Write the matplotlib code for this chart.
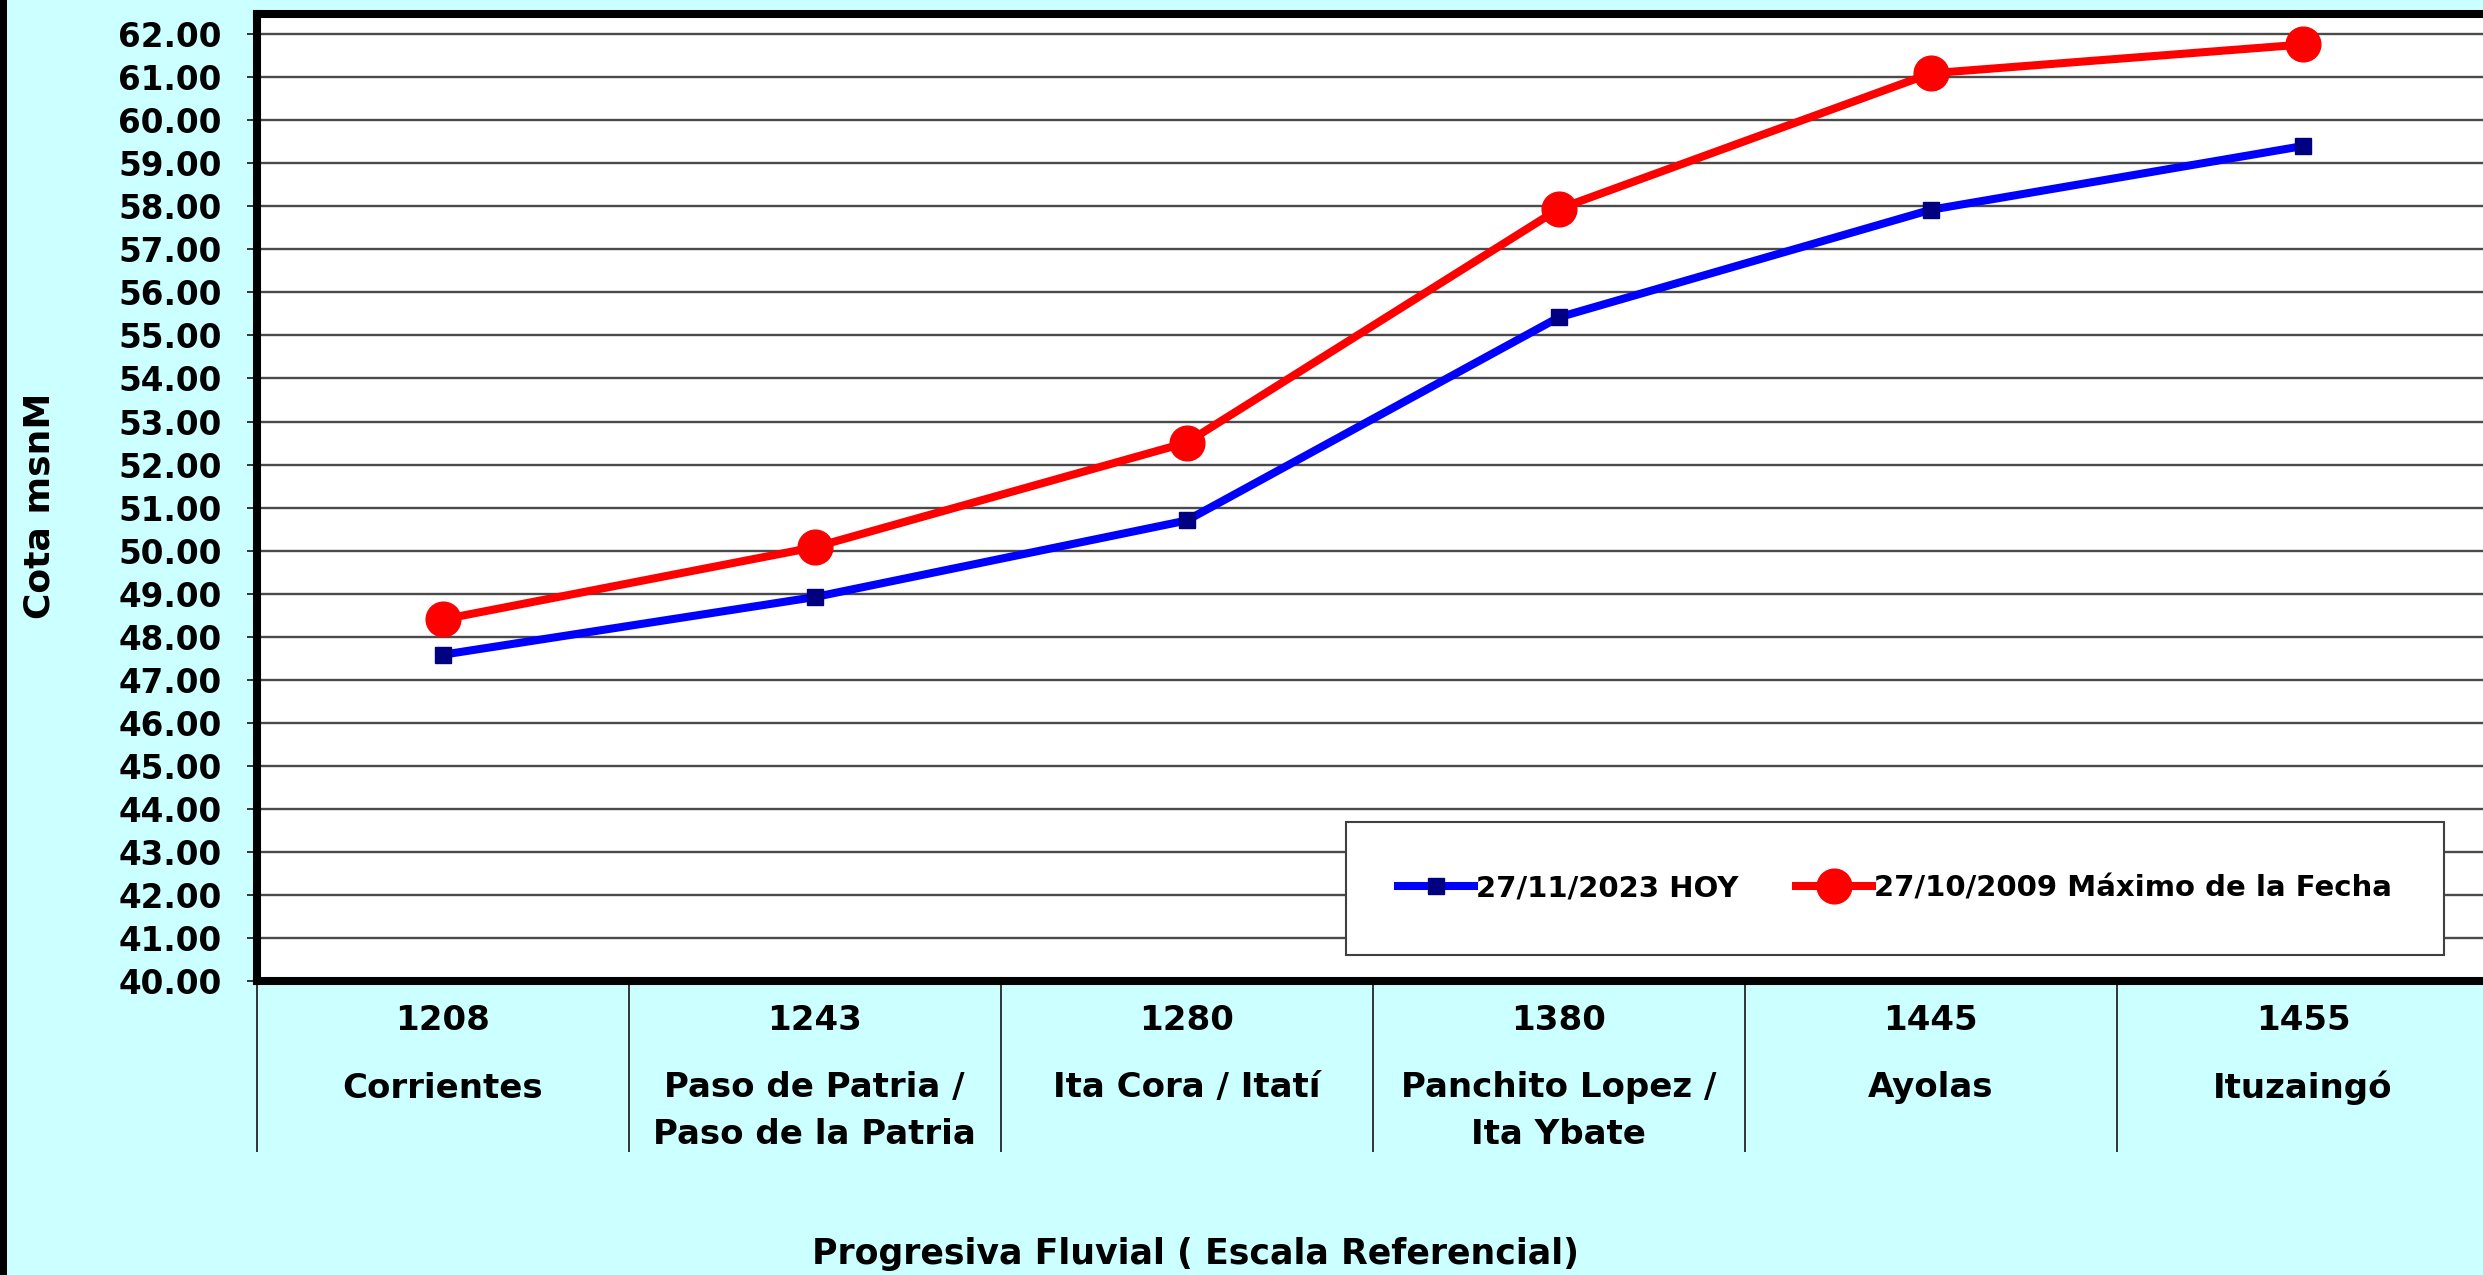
import numpy as np
import matplotlib
matplotlib.use("Agg")
import matplotlib.pyplot as plt
from matplotlib.patches import Rectangle

plt.rcParams["font.family"] = ["DejaVu Sans"]
plt.rcParams["font.weight"] = "bold"

# Stations along the river (progressive km and name lines)
progresivas = ["1208", "1243", "1280", "1380", "1445", "1455"]
estaciones = [
    ["Corrientes"],
    ["Paso de Patria /", "Paso de la Patria"],
    ["Ita Cora / Itatí"],
    ["Panchito Lopez /", "Ita Ybate"],
    ["Ayolas"],
    ["Ituzaingó"],
]

# Water levels (m above sea level)
cota_hoy = [47.58, 48.92, 50.70, 55.42, 57.92, 59.40]
cota_maxima = [48.40, 50.08, 52.51, 57.94, 61.09, 61.76]

label_hoy = "27/11/2023 HOY"
label_max = "27/10/2009 Máximo de la Fecha"
y_ticks = np.arange(40, 63, 1)

W, H = 2483, 1275
fig = plt.figure(figsize=(W / 100, H / 100), dpi=100, facecolor="#CCFFFF")

# plot area in pixel coordinates
left_px, right_px, top_px, bottom_px = 256.5, 2489, 13.5, 981
ax = fig.add_axes([left_px / W, 1 - bottom_px / H,
                   (right_px - left_px) / W, (bottom_px - top_px) / H])
ax.set_facecolor("white")

x = np.arange(len(progresivas))
ax.plot(x, cota_hoy, color="#0000FF", lw=5.8, marker="s", ms=11,
        mfc="#000080", mec="#000080", label=label_hoy, zorder=3)
ax.plot(x, cota_maxima, color="#FF0000", lw=5.8, marker="o", ms=25,
        mfc="#FF0000", mec="#FF0000", label=label_max, zorder=4)

ax.set_xlim(-0.5, len(progresivas) - 0.5)
ax.set_ylim(40, 62.48)
ax.set_yticks(y_ticks)
ax.set_yticklabels([f"{v:.2f}" for v in y_ticks])
ax.yaxis.grid(True, color="#4a4a4a", linewidth=1.7, zorder=1)
ax.set_axisbelow(True)

for side in ["left", "top", "bottom", "right"]:
    ax.spines[side].set_linewidth(5.8)
    ax.spines[side].set_color("black")

ax.tick_params(axis="y", direction="out", length=7.2, width=1.4,
               color="#333333", pad=18, labelsize=23.5)

# category separators below the axis
ax.set_xticks(x)
ax.set_xticks(np.arange(-0.5, len(progresivas), 1), minor=True)
ax.tick_params(axis="x", which="major", length=0, labelbottom=False)
ax.tick_params(axis="x", which="minor", direction="out", length=123,
               width=1.4, color="#333333", labelbottom=False)

xtrans = ax.get_xaxis_transform()
for i, (prog, nombre) in enumerate(zip(progresivas, estaciones)):
    ax.annotate(prog, xy=(i, 0), xycoords=xtrans, xytext=(0, -40),
                textcoords="offset pixels", ha="center", va="center",
                fontsize=24.5, fontweight="bold", annotation_clip=False)
    for j, linea in enumerate(nombre):
        ax.annotate(linea, xy=(i, 0), xycoords=xtrans,
                    xytext=(0, -107 - 46 * j), textcoords="offset pixels",
                    ha="center", va="center", fontsize=24.5,
                    fontweight="bold", annotation_clip=False)

leg = ax.legend(loc="lower left", bbox_to_anchor=(0.488, 0.0269), ncol=2,
                prop={"size": 21, "weight": "bold"}, frameon=True,
                fancybox=False, edgecolor="#404040", facecolor="white",
                framealpha=1, borderpad=1.8, handlelength=2.6,
                handletextpad=0.05, columnspacing=2.0, borderaxespad=0)
leg.get_frame().set_linewidth(1.5)
leg.set_zorder(5)

fig.text(40 / W, 1 - 506 / H, "Cota msnM", rotation=90, ha="center",
         va="center", fontsize=26, fontweight="bold")
fig.text(1196 / W, 1 - 1254 / H, "Progresiva Fluvial ( Escala Referencial)",
         ha="center", va="center", fontsize=25, fontweight="bold")

# dark band on the left edge
fig.patches.append(Rectangle((0, 0), 7 / W, 1, transform=fig.transFigure,
                             facecolor="black", edgecolor="none"))

fig.savefig("out.png", dpi=100, facecolor=fig.get_facecolor())
